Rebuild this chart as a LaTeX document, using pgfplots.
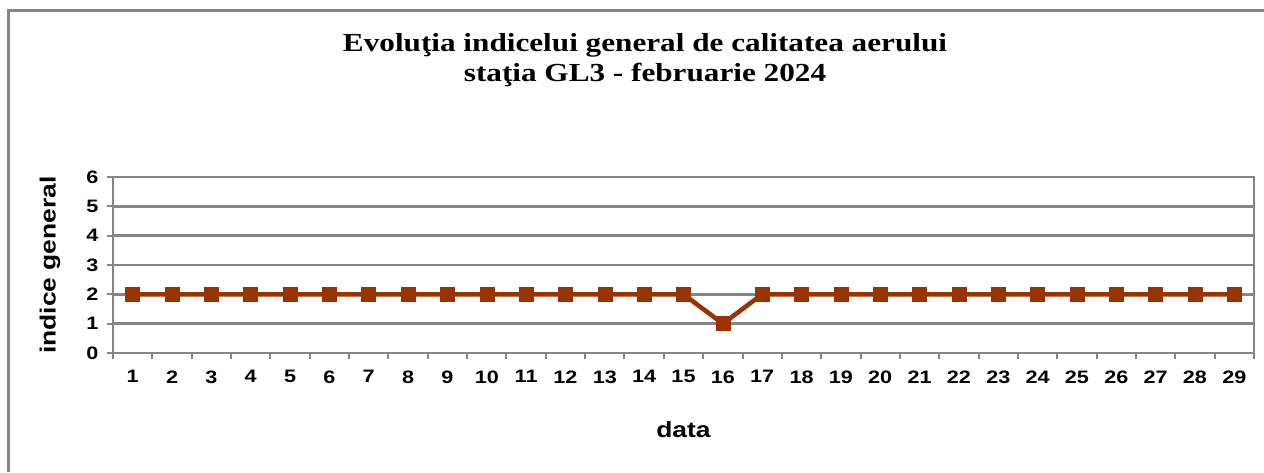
\documentclass[border=0pt]{standalone}
\usepackage{fontspec}
\setmainfont{Liberation Serif}[FakeStretch=1.2]
\setsansfont{Liberation Sans}[FakeStretch=1.2]
\usepackage{pgfplots}
\pgfplotsset{compat=1.18}
\definecolor{linec}{HTML}{993300}
\definecolor{axgray}{HTML}{868686}
\begin{document}
\begin{tikzpicture}[x=1pt,y=1pt]
\useasboundingbox (0,0) rectangle (1264,472);
\draw[axgray, line width=3pt] (8,0) -- (8,461) -- (1264,461);
\node[font=\bfseries\fontsize{26}{30}\selectfont, align=center] at (645,412) {Evoluţia indicelui general de calitatea aerului\\staţia GL3 - februarie 2024};
\begin{axis}[
  at={(113pt,119pt)}, anchor=south west,
  scale only axis, width=1141pt, height=176pt,
  xmin=0.5, xmax=29.5, ymin=0, ymax=6,
  xtick={0.5,1.5,...,29.5},
  x tick label as interval,
  xticklabels={1,2,3,4,5,6,7,8,9,10,11,12,13,14,15,16,17,18,19,20,21,22,23,24,25,26,27,28,29},
  ytick={0,1,...,6},
  tick align=outside, xtick pos=bottom, ytick pos=left,
  major tick length=6pt,
  ymajorgrids,
  grid style={axgray, line width=2.5pt},
  axis line style={axgray, line width=2.5pt},
  tick style={axgray, line width=2pt},
  /pgf/number format/assume math mode=true,
  ticklabel style={font=\sffamily\bfseries\fontsize{18}{18}\selectfont},
  xticklabel style={yshift=-8pt},
  yticklabel style={xshift=-5pt},
  xlabel={data}, ylabel={indice general},
  label style={font=\sffamily\bfseries\fontsize{22}{22}\selectfont},
  xlabel style={at={(axis description cs:0.5,0)}, anchor=center, yshift=-77pt},
  ylabel style={at={(axis description cs:0,0.5)}, anchor=center, yshift=63pt},
]
\addplot[linec, line width=4.5pt, mark=square*, mark size=7pt, mark options={solid, fill=linec, line width=0.5pt}] coordinates {
(1,2)(2,2)(3,2)(4,2)(5,2)(6,2)(7,2)(8,2)(9,2)(10,2)(11,2)(12,2)(13,2)(14,2)(15,2)(16,1)(17,2)(18,2)(19,2)(20,2)(21,2)(22,2)(23,2)(24,2)(25,2)(26,2)(27,2)(28,2)(29,2)};
\end{axis}
\end{tikzpicture}
\end{document}
